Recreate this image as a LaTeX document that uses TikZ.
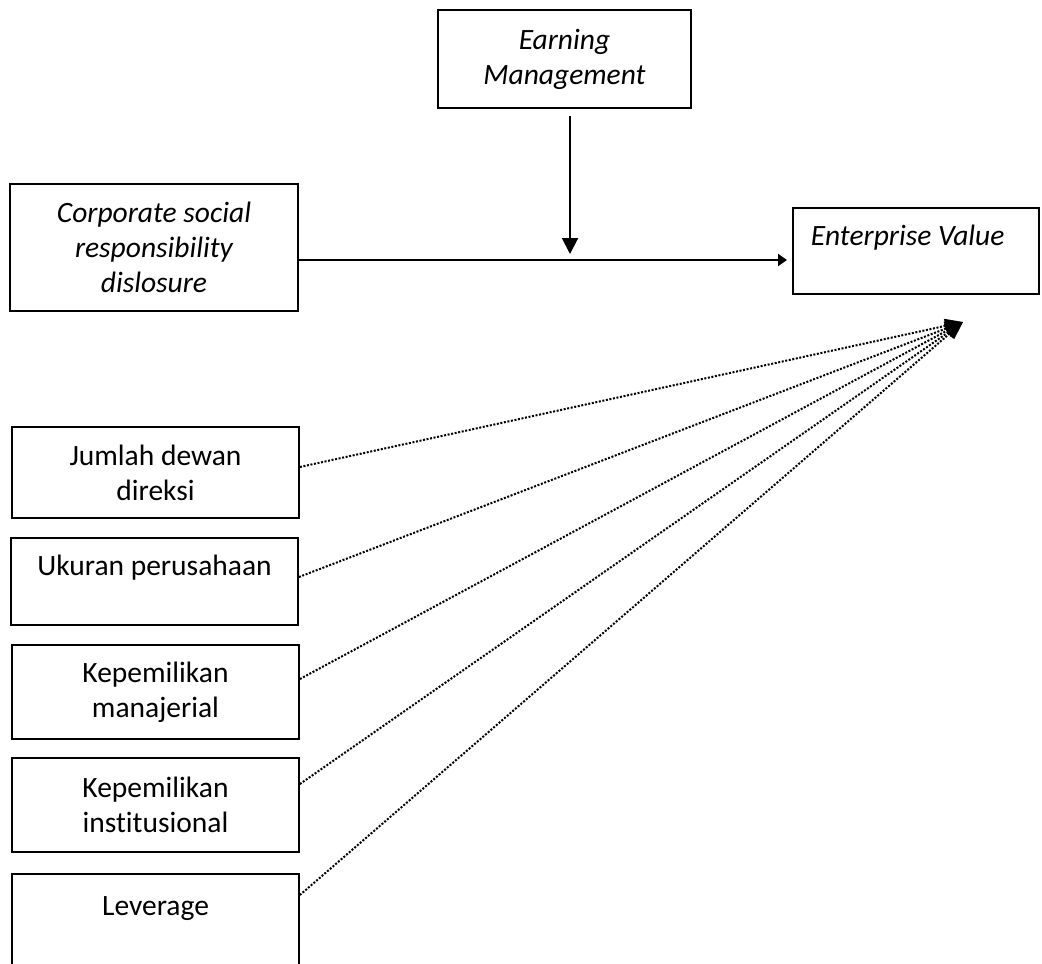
\documentclass[tikz,border=0pt]{standalone}
\usepackage{fontspec}
\setmainfont[Ligatures=NoCommon]{Carlito}
\usetikzlibrary{arrows.meta}
\tikzset{
  box/.style={draw, line width=0.9pt, inner sep=0pt, align=center, font=\fontsize{14.75}{17.5}\selectfont},
  var/.style={box, font=\fontsize{14.75}{17.5}\selectfont\itshape},
  dots/.style={line width=1pt, dash pattern=on 1pt off 0.8pt, -{Triangle[length=9pt,width=7pt]}}
}
\begin{document}
\begin{tikzpicture}[x=0.5pt, y=-0.5pt]
  \useasboundingbox (0,0) rectangle (1042,963);
  % moderating and main variables
  \node [var, minimum width=126.5pt, minimum height=49pt] (em) at (564.5,59) {Earning\\Management};
  \node [var, minimum width=144pt, minimum height=63.5pt] (csr) at (154,247.5) {Corporate social\\responsibility\\dislosure};
  \node [var, anchor=north west, text width=105pt, inner xsep=9pt, align=flush left, text height=19pt, text depth=24pt] (ev) at (792,207) {Enterprise Value};
  % control variables
  \node [box, minimum width=143.5pt, minimum height=45.5pt] (jdd) at (155.5,472.5) {Jumlah dewan\\direksi};
  \node [box, minimum width=143.5pt, anchor=north, text height=18.75pt, text depth=24.75pt] (up) at (154.5,537) {Ukuran perusahaan};
  \node [box, minimum width=143.5pt, minimum height=47pt] (km) at (155.5,692) {Kepemilikan\\manajerial};
  \node [box, minimum width=143.5pt, minimum height=47pt] (ki) at (155.5,805) {Kepemilikan\\institusional};
  \node [box, minimum width=143.5pt, anchor=north, text height=21pt, text depth=36pt] (lev) at (155.5,873) {Leverage};
  \coordinate (m) at (570,260);
  \coordinate (t) at (963,322);
  \draw [line width=1pt, -{Triangle[length=8pt,width=8pt]}, shorten <=3.5pt, shorten >=3pt] (em.south -| m) -- (m);
  \draw [line width=1pt, -{Triangle[length=4.5pt,width=6pt]}, shorten >=2.5pt] (csr.east |- m) -- (ev.west |- m);
  \foreach \v/\y in {jdd/467, up/577, km/679, ki/784, lev/895}
    \draw [dots] (\v.east |- 0,\y) -- (t);
\end{tikzpicture}
\end{document}
